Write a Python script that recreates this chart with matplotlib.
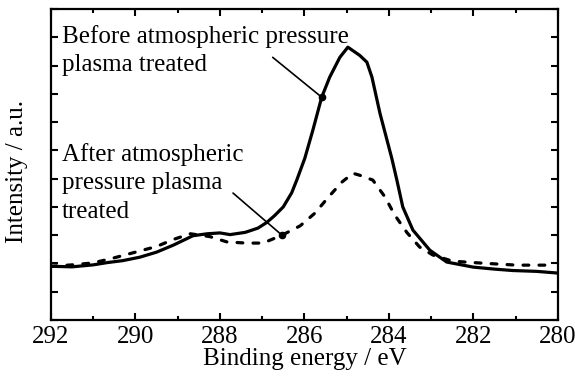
import numpy as np
import matplotlib
matplotlib.use("Agg")
import matplotlib.pyplot as plt
from matplotlib.ticker import MultipleLocator, NullFormatter

plt.rcParams['font.family'] = ['Liberation Serif', 'DejaVu Serif']
plt.rcParams['mathtext.fontset'] = 'stix'

# Before atmospheric pressure plasma treatment (solid)
energy_before = [292.0, 291.5, 291.0, 290.67, 290.3, 289.9, 289.5, 289.1, 288.64, 288.3,
                 288.0, 287.76, 287.4, 287.1, 286.89, 286.7, 286.5, 286.3, 286.18, 285.99,
                 285.8, 285.59, 285.4, 285.16, 284.97, 284.69, 284.52, 284.4, 284.21, 283.93,
                 283.81, 283.67, 283.43, 283.03, 282.63, 282.0, 281.5, 281.07, 280.5, 280.0]
intensity_before = [1.90, 1.88, 1.95, 2.03, 2.10, 2.22, 2.40, 2.65, 2.98, 3.05,
                    3.08, 3.02, 3.10, 3.25, 3.45, 3.70, 4.00, 4.50, 4.95, 5.72,
                    6.71, 7.88, 8.59, 9.29, 9.65, 9.36, 9.12, 8.59, 7.31, 5.72,
                    4.95, 4.00, 3.18, 2.47, 2.05, 1.87, 1.80, 1.75, 1.72, 1.66]

# After atmospheric pressure plasma treatment (dashed)
energy_after = [292.0, 291.5, 291.0, 290.5, 290.0, 289.5, 289.1, 288.7, 288.24, 287.83,
                287.36, 286.98, 286.53, 286.1, 285.75, 285.44, 285.11, 284.85, 284.69, 284.38,
                284.09, 283.86, 283.57, 283.27, 282.96, 282.49, 281.78, 280.97, 280.26]
intensity_after = [1.90, 1.95, 2.02, 2.20, 2.40, 2.60, 2.85, 3.05, 2.95, 2.76,
                   2.72, 2.72, 3.00, 3.33, 3.78, 4.33, 4.88, 5.19, 5.12, 4.95,
                   4.35, 3.71, 3.09, 2.58, 2.30, 2.08, 2.01, 1.94, 1.94]

label_before = "Before atmospheric pressure\nplasma treated"
label_after = "After atmospheric\npressure plasma\ntreated"
xlabel = "Binding energy / eV"
ylabel = "Intensity / a.u."

# annotation pointer energies (on the curves) and text-leader start points
ptr_before_E, lead_before = 285.59, (286.75, 9.29)
ptr_after_E, lead_after = 286.53, (287.69, 4.49)

FS = 18

fig = plt.figure(figsize=(5.75, 3.83), dpi=100)
ax = fig.add_axes([0.0887, 0.1645, 0.8813, 0.812])

ax.plot(energy_before, intensity_before, color='black', lw=2.3, solid_joinstyle='round')
ax.plot(energy_after, intensity_after, color='black', lw=2.3, linestyle=(0, (1.8, 3.2)),
        dash_capstyle='round')

ax.set_xlim(292, 280)
ax.set_ylim(0, 11)
ax.xaxis.set_major_locator(MultipleLocator(2))
ax.xaxis.set_minor_locator(MultipleLocator(1))
ax.yaxis.set_major_locator(MultipleLocator(1))
ax.yaxis.set_major_formatter(NullFormatter())
ax.tick_params(axis='both', which='both', direction='in', top=True, right=True, width=1.5)
ax.tick_params(axis='both', which='major', length=5, labelsize=FS)
ax.tick_params(axis='x', which='minor', length=3)
ax.tick_params(axis='x', which='major', pad=4)
for s in ax.spines.values():
    s.set_linewidth(1.6)

ax.set_xlabel(xlabel, fontsize=FS, labelpad=0)
ax.set_ylabel(ylabel, fontsize=FS)
ax.yaxis.set_label_coords(-0.045, 0.476)

# annotations
yb = float(np.interp(ptr_before_E, energy_before[::-1], intensity_before[::-1]))
ya = float(np.interp(ptr_after_E, energy_after[::-1], intensity_after[::-1]))
ax.text(0.0217, 0.949, label_before, transform=ax.transAxes, fontsize=FS,
        va='top', ha='left', linespacing=1.38)
ax.text(0.0217, 0.569, label_after, transform=ax.transAxes, fontsize=FS,
        va='top', ha='left', linespacing=1.38)
ax.annotate('', xy=(ptr_before_E, yb), xytext=lead_before,
            arrowprops=dict(arrowstyle='-', lw=1.2, color='black', shrinkA=0, shrinkB=0))
ax.annotate('', xy=(ptr_after_E, ya), xytext=lead_after,
            arrowprops=dict(arrowstyle='-', lw=1.2, color='black', shrinkA=0, shrinkB=0))
ax.plot([ptr_before_E, ptr_after_E], [yb, ya], 'o', color='black', ms=4.5)

fig.savefig('out.png', dpi=100)
